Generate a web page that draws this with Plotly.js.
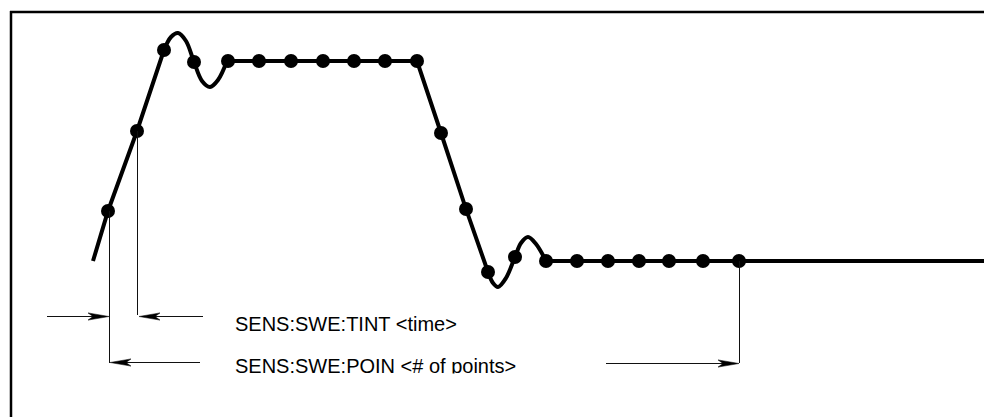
<!DOCTYPE html>
<html>
<head>
<meta charset="utf-8">
<script src="https://cdn.plot.ly/plotly-3.0.1.min.js"></script>
<style>
  html, body { margin: 0; padding: 0; background: #fff; }
  #chart { width: 984px; height: 417px; }
</style>
</head>
<body>
<div id="chart"></div>
<script>
// ---- Waveform (time on x, level on y; units follow the drawing grid) ----
const riseX = [93, 108, 137, 164];
const riseY = [261, 211, 131, 50];
const ring1X = [164, 171, 178, 186, 194, 202, 210, 218, 227];
const ring1Y = [50, 37, 33, 41, 62, 81, 87, 80, 61];
const highFallX = [227, 417, 441, 466, 488];
const highFallY = [61, 61, 133, 209, 272];
const ring2X = [488, 493, 498, 506, 515, 521, 528, 536, 546];
const ring2Y = [272, 283, 287, 278, 257, 243, 237, 244, 261];
const lowX = [546, 984];
const lowY = [261, 261];

// ---- Measurement samples (dots) ----
const sampleX = [108, 137, 164, 194, 228, 259, 291, 323, 354, 385, 417, 441, 466, 488, 515, 546, 577, 608, 639, 669, 703, 739];
const sampleY = [211, 131, 50, 62, 61, 61, 61, 61, 61, 61, 61, 133, 209, 272, 257, 261, 261, 261, 261, 261, 261, 261];

// ---- Dimension markers ----
const dropX = [109.5, 137.5, 739.5];
const dropTop = [211, 131, 261];
const dropBottom = [363, 315, 363];
const arrowTailX = [47, 203, 200, 606];
const arrowHeadX = [109, 139, 110, 739];
const arrowY = [316.5, 316.5, 362.5, 363.5];

// ---- Labels ----
const labelText = ['SENS:SWE:TINT &lt;time&gt;', 'SENS:SWE:POIN &lt;# of points&gt;'];
const labelX = [235, 235];
const labelY = [326, 368];

const ink = '#000000';
const waveLine = { color: ink, width: 4 };

const traces = [
  { x: riseX, y: riseY, mode: 'lines', line: Object.assign({ shape: 'linear' }, waveLine), hoverinfo: 'skip' },
  { x: ring1X, y: ring1Y, mode: 'lines', line: Object.assign({ shape: 'spline', smoothing: 1 }, waveLine), hoverinfo: 'skip' },
  { x: highFallX, y: highFallY, mode: 'lines', line: Object.assign({ shape: 'linear' }, waveLine), hoverinfo: 'skip' },
  { x: ring2X, y: ring2Y, mode: 'lines', line: Object.assign({ shape: 'spline', smoothing: 1 }, waveLine), hoverinfo: 'skip' },
  { x: lowX, y: lowY, mode: 'lines', line: Object.assign({ shape: 'linear' }, waveLine), hoverinfo: 'skip' },
  { x: sampleX, y: sampleY, mode: 'markers', marker: { color: ink, size: 14, line: { width: 0 } }, hoverinfo: 'skip' },
  { x: labelX, y: labelY, text: labelText, mode: 'text', textposition: 'middle right',
    textfont: { family: 'Liberation Sans, Arial, sans-serif', size: 20, color: ink }, hoverinfo: 'skip', cliponaxis: false }
];

const shapes = [];
// frame (top and left edges)
shapes.push({ type: 'line', xref: 'x', yref: 'y', x0: 10, x1: 990, y0: 12, y1: 12, line: { color: ink, width: 2.5 } });
shapes.push({ type: 'line', xref: 'x', yref: 'y', x0: 11, x1: 11, y0: 11, y1: 420, line: { color: ink, width: 2.5 } });
// drop lines
dropX.forEach((x, i) => {
  shapes.push({ type: 'line', xref: 'x', yref: 'y', x0: x, x1: x, y0: dropTop[i], y1: dropBottom[i], line: { color: '#111', width: 1 } });
});
// arrows
const headLen = 21, headHalf = 3.6, notch = 5;
arrowHeadX.forEach((hx, i) => {
  const tx = arrowTailX[i], y = arrowY[i];
  const d = hx > tx ? 1 : -1;
  const back = hx - d * headLen;
  const nx = hx - d * (headLen - notch);
  shapes.push({ type: 'line', xref: 'x', yref: 'y', x0: tx, x1: nx, y0: y, y1: y, line: { color: '#111', width: 1 } });
  shapes.push({ type: 'path', xref: 'x', yref: 'y',
    path: `M${hx},${y} L${back},${y - headHalf} L${nx},${y} L${back},${y + headHalf} Z`,
    fillcolor: ink, line: { color: ink, width: 0.5 } });
});
// the lower label is cut off at its bottom in the original
shapes.push({ type: 'rect', xref: 'x', yref: 'y', x0: 228, x1: 560, y0: 373.5, y1: 417, fillcolor: '#ffffff', line: { width: 0 }, layer: 'above' });

const layout = {
  width: 984, height: 417,
  margin: { l: 0, r: 0, t: 0, b: 0, pad: 0 },
  paper_bgcolor: '#ffffff', plot_bgcolor: '#ffffff',
  showlegend: false,
  xaxis: { range: [0, 984], visible: false, fixedrange: true },
  yaxis: { range: [417, 0], visible: false, fixedrange: true },
  shapes: shapes
};

Plotly.newPlot('chart', traces, layout, { staticPlot: true, displayModeBar: false });
</script>
</body>
</html>
